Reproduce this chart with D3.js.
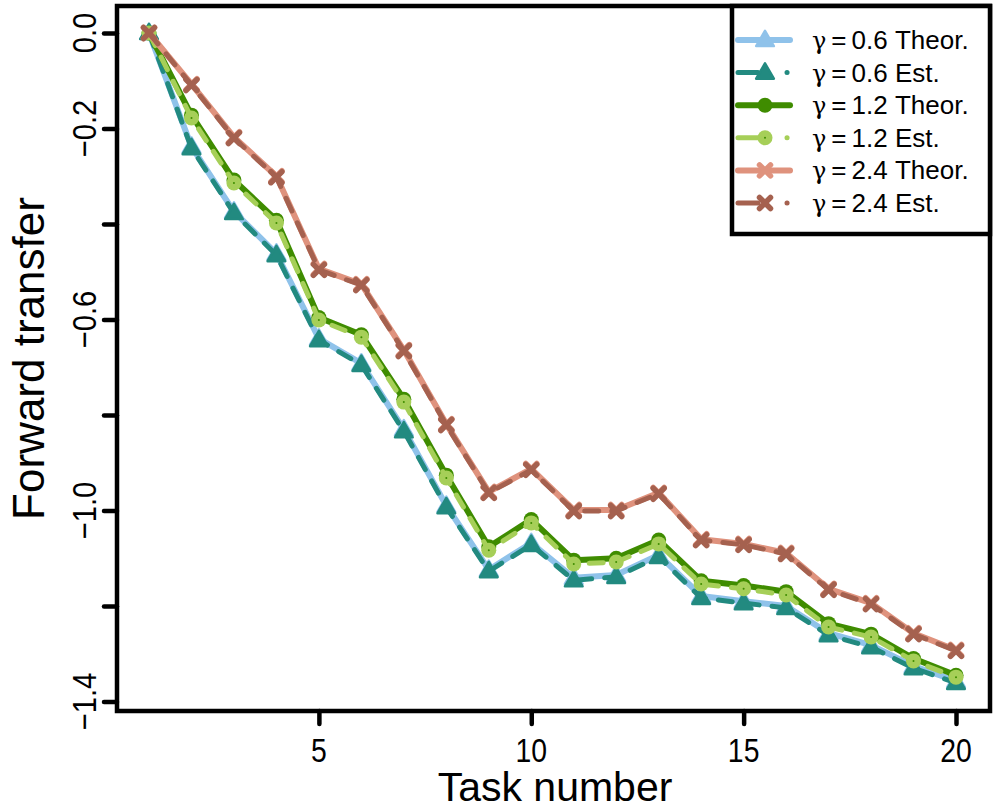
<!doctype html>
<html>
  <head>
    <script src="https://cdn.jsdelivr.net/npm/d3@7/dist/d3.min.js"></script>
    <style>
      body { margin: 0; background: #fff; }
      text { font-family: "Liberation Sans", Arial, sans-serif; fill: #000; }
    </style>
  </head>
  <body>
    <svg id="chart" width="997" height="810"></svg>
    <script>
      // data
      var tasks = d3.range(1, 21);
      var yTicks = [0, -0.2, -0.4, -0.6, -0.8, -1.0, -1.2, -1.4];
      var yTickLabels = ["0.0", "\u22120.2", "", "\u22120.6", "", "\u22121.0", "", "\u22121.4"];
      var xTicks = [5, 10, 15, 20];

      var theor06 = [0, -0.238, -0.374, -0.462, -0.640, -0.692, -0.830, -0.990, -1.124, -1.068, -1.141, -1.135, -1.093, -1.179, -1.190, -1.200, -1.257, -1.282, -1.326, -1.357];
      var est06   = [0, -0.241, -0.377, -0.465, -0.643, -0.695, -0.834, -0.993, -1.127, -1.072, -1.146, -1.139, -1.097, -1.183, -1.194, -1.204, -1.261, -1.286, -1.330, -1.361];
      var theor12 = [0, -0.172, -0.308, -0.392, -0.596, -0.632, -0.767, -0.926, -1.076, -1.019, -1.104, -1.100, -1.062, -1.147, -1.157, -1.170, -1.237, -1.259, -1.310, -1.345];
      var est12   = [0, -0.178, -0.314, -0.398, -0.601, -0.637, -0.773, -0.932, -1.083, -1.026, -1.112, -1.108, -1.070, -1.154, -1.164, -1.177, -1.244, -1.265, -1.315, -1.349];
      var theor24 = [0, -0.107, -0.218, -0.300, -0.494, -0.526, -0.664, -0.819, -0.961, -0.913, -0.999, -0.999, -0.963, -1.060, -1.070, -1.089, -1.164, -1.194, -1.257, -1.292];
      var est24   = [0, -0.109, -0.220, -0.302, -0.496, -0.528, -0.666, -0.821, -0.963, -0.915, -1.001, -1.001, -0.965, -1.062, -1.072, -1.091, -1.166, -1.196, -1.259, -1.294];

      var seriesNames = ["0.6 Theor.", "0.6 Est.", "1.2 Theor.", "1.2 Est.", "2.4 Theor.", "2.4 Est."];

      var series = [
        { name: seriesNames[0], values: theor06, color: "#8fc2ea", shape: "tri",   est: false },
        { name: seriesNames[1], values: est06,   color: "#228a80", shape: "tri",   est: true },
        { name: seriesNames[2], values: theor12, color: "#3f8c00", shape: "circ",  est: false },
        { name: seriesNames[3], values: est12,   color: "#a6cf58", shape: "circ",  est: true },
        { name: seriesNames[4], values: theor24, color: "#df927d", shape: "cross", est: false },
        { name: seriesNames[5], values: est24,   color: "#a5614f", shape: "cross", est: true }
      ];

      var svg = d3.select("#chart");

      var x = d3.scaleLinear().domain([1, 20]).range([149, 956]);
      var y = d3.scaleLinear().domain([0, -1.4]).range([33, 701.5]);

      var box = { left: 117, top: 6, right: 990, bottom: 711 };

      // axes
      var yAxis = svg.append("g")
        .attr("transform", "translate(" + box.left + ",0)")
        .call(d3.axisLeft(y).tickValues(yTicks).tickSize(13).tickFormat(""));
      var xAxis = svg.append("g")
        .attr("transform", "translate(0," + box.bottom + ")")
        .call(d3.axisBottom(x).tickValues(xTicks).tickSize(13).tickFormat(""));
      [yAxis, xAxis].forEach(function(a) {
        a.select(".domain").remove();
        a.selectAll("line").attr("stroke", "#000").attr("stroke-width", 4.5).attr("stroke-linecap", "round");
      });

      // tick labels are a little condensed in the original
      svg.append("g").selectAll("text")
        .data(yTicks)
        .enter().append("text")
          .attr("transform", function(d) { return "translate(96," + y(d) + ") rotate(-90) scale(0.86,1)"; })
          .attr("text-anchor", "middle")
          .style("font-size", "34px")
          .text(function(d, i) { return yTickLabels[i]; });

      svg.append("g").selectAll("text")
        .data(xTicks)
        .enter().append("text")
          .attr("transform", function(d) { return "translate(" + x(d) + ",762) scale(0.86,1)"; })
          .attr("text-anchor", "middle")
          .style("font-size", "33px")
          .text(function(d) { return d; });

      svg.append("text")
        .attr("transform", "translate(44," + ((box.top + box.bottom) / 2) + ") rotate(-90)")
        .attr("text-anchor", "middle")
        .style("font-size", "44px")
        .text("Forward transfer");

      svg.append("text")
        .attr("x", 555)
        .attr("y", 801)
        .attr("text-anchor", "middle")
        .style("font-size", "41px")
        .text("Task number");

      // markers
      var triPath = d3.symbol().type(d3.symbolTriangle).size(135)();

      function drawMarker(g, s, cx, cy) {
        if (s.shape === "tri") {
          g.append("path")
            .attr("d", triPath)
            .attr("transform", "translate(" + cx + "," + (cy + 1) + ")")
            .attr("fill", s.color)
            .attr("stroke", s.color)
            .attr("stroke-width", 2.5)
            .attr("stroke-linejoin", "round");
        } else if (s.shape === "circ") {
          g.append("circle")
            .attr("cx", cx).attr("cy", cy).attr("r", 7.5)
            .attr("fill", s.color);
          if (s.est) {
            g.append("circle")
              .attr("cx", cx).attr("cy", cy).attr("r", 1)
              .attr("fill", "#3f8c00");
          }
        } else {
          var r = 5.5;
          g.append("path")
            .attr("d", "M" + (cx - r) + "," + (cy - r) + "L" + (cx + r) + "," + (cy + r) +
                       "M" + (cx - r) + "," + (cy + r) + "L" + (cx + r) + "," + (cy - r))
            .attr("stroke", s.color)
            .attr("stroke-width", 5.5)
            .attr("stroke-linecap", "round")
            .attr("fill", "none");
        }
      }

      var line = d3.line()
        .x(function(d, i) { return x(tasks[i]); })
        .y(function(d) { return y(d); });

      var plot = svg.append("g");
      series.forEach(function(s) {
        var g = plot.append("g");
        g.append("path")
          .attr("d", line(s.values))
          .attr("fill", "none")
          .attr("stroke", s.color)
          .attr("stroke-width", s.est ? 5 : 6)
          .attr("stroke-linecap", "round")
          .attr("stroke-linejoin", "round")
          .attr("stroke-dasharray", s.est ? "14 13" : null);
        s.values.forEach(function(v, i) {
          drawMarker(g, s, x(tasks[i]), y(v));
        });
      });

      // frame
      svg.append("rect")
        .attr("x", box.left).attr("y", box.top)
        .attr("width", box.right - box.left).attr("height", box.bottom - box.top)
        .attr("fill", "none").attr("stroke", "#000").attr("stroke-width", 4.5);

      // legend
      var leg = svg.append("g");
      leg.append("rect")
        .attr("x", 732).attr("y", box.top)
        .attr("width", box.right - 732).attr("height", 234 - box.top)
        .attr("fill", "#fff").attr("stroke", "#000").attr("stroke-width", 4.5);

      series.forEach(function(s, i) {
        var ly = 40 + i * 32.6;
        leg.append("path")
          .attr("d", "M738," + ly + "L790," + ly)
          .attr("stroke", s.color)
          .attr("stroke-width", s.est ? 5 : 6)
          .attr("stroke-linecap", "round")
          .attr("stroke-dasharray", s.est ? "20 29 0.1 20" : null);
        drawMarker(leg, s, 765, ly);
        var t = leg.append("text")
          .attr("x", 812)
          .attr("y", ly + 9)
          .style("font-size", "26px");
        t.append("tspan").style("font-family", "'DejaVu Serif', serif").style("font-size", "24px").text("\u03b3");
        t.append("tspan").attr("dx", 5).text("=");
        t.append("tspan").attr("dx", 5).text(s.name);
      });
    </script>
  </body>
</html>
